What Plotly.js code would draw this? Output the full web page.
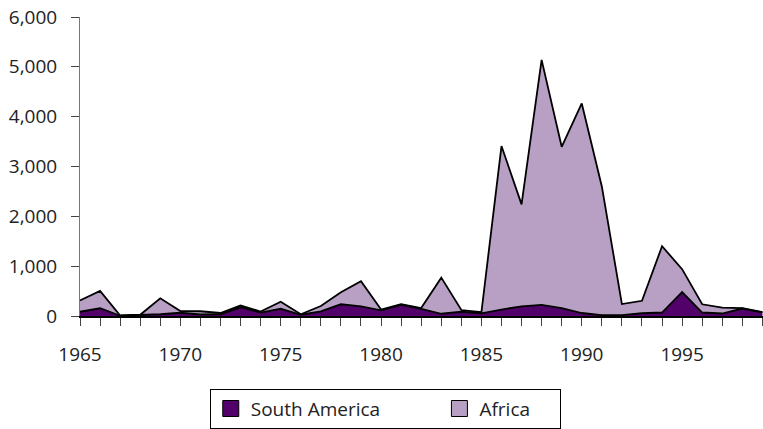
<!DOCTYPE html>
<html>
<head>
<meta charset="utf-8">
<script src="https://cdn.plot.ly/plotly-3.0.1.min.js"></script>
<style>html,body{margin:0;padding:0;background:#fff;}#chart{width:763px;height:429px;}</style>
</head>
<body>
<div id="chart"></div>
<script>
const years = [1965,1966,1967,1968,1969,1970,1971,1972,1973,1974,1975,1976,1977,1978,1979,1980,1981,1982,1983,1984,1985,1986,1987,1988,1989,1990,1991,1992,1993,1994,1995,1996,1997,1998,1999];
const southAmerica = [85,155,5,15,35,65,30,35,175,70,145,25,95,235,195,115,225,145,45,85,55,130,195,225,160,60,15,15,55,70,480,70,50,150,75];
const africa = [225,350,5,10,320,35,65,25,35,20,140,10,105,240,505,15,10,15,725,35,20,3280,2045,4915,3235,4205,2585,225,250,1330,460,165,120,10,5];
const seriesNames = ["South America","Africa"];
const seriesColors = ['#52006a', '#b7a0c3'];
const legendPad = ['\u00a0'.repeat(11), '\u00a0'.repeat(5)];

const font = "Open Sans, Lato, sans-serif";
const traces = [
  {x: years, y: southAmerica, name: seriesNames[0], type: 'scatter', mode: 'lines', stackgroup: 'one',
   fillcolor: seriesColors[0], line: {color: '#000', width: 1.8}, showlegend: false},
  {x: years, y: africa, name: seriesNames[1], type: 'scatter', mode: 'lines', stackgroup: 'one',
   fillcolor: seriesColors[1], line: {color: '#000', width: 1.8}, showlegend: false}
];
// legend keys (square swatches like the original)
seriesNames.forEach((n, i) => {
  traces.push({x: [null], y: [null], name: n + legendPad[i], type: 'scatter', mode: 'markers', showlegend: true,
    marker: {symbol: 'square', size: 22, color: seriesColors[i], line: {color: '#000', width: 1}}});
});
const layout = {
  width: 763, height: 429,
  margin: {l: 80, r: 0, t: 17, b: 111},
  paper_bgcolor: '#fff', plot_bgcolor: '#fff',
  font: {family: font, size: 19, color: '#222'},
  showlegend: true,
  legend: {orientation: 'h', x: 0.19, xanchor: 'left', y: -0.243, yanchor: 'top',
    bordercolor: '#000', borderwidth: 1, itemsizing: 'trace',
    font: {family: font, size: 19, color: '#222'}, traceorder: 'normal'},
  xaxis: {range: [1965, 1999.03], tickmode: 'linear', tick0: 1965, dtick: 5,
    ticks: 'outside', ticklen: 8, tickcolor: '#444', showline: true, linecolor: '#000', linewidth: 2,
    showgrid: false, zeroline: false, ticklabelstandoff: 12,
    minor: {dtick: 1, tick0: 1965, ticks: 'outside', ticklen: 8, tickcolor: '#444', showgrid: false}},
  yaxis: {range: [0, 6000], tickmode: 'linear', tick0: 0, dtick: 1000, tickformat: ',d',
    ticks: 'outside', ticklen: 8, tickcolor: '#444', showline: true, linecolor: '#777', linewidth: 1,
    showgrid: false, zeroline: false, ticklabelstandoff: 10}
};
Plotly.newPlot('chart', traces, layout, {displayModeBar: false, staticPlot: true});
</script>
</body>
</html>
